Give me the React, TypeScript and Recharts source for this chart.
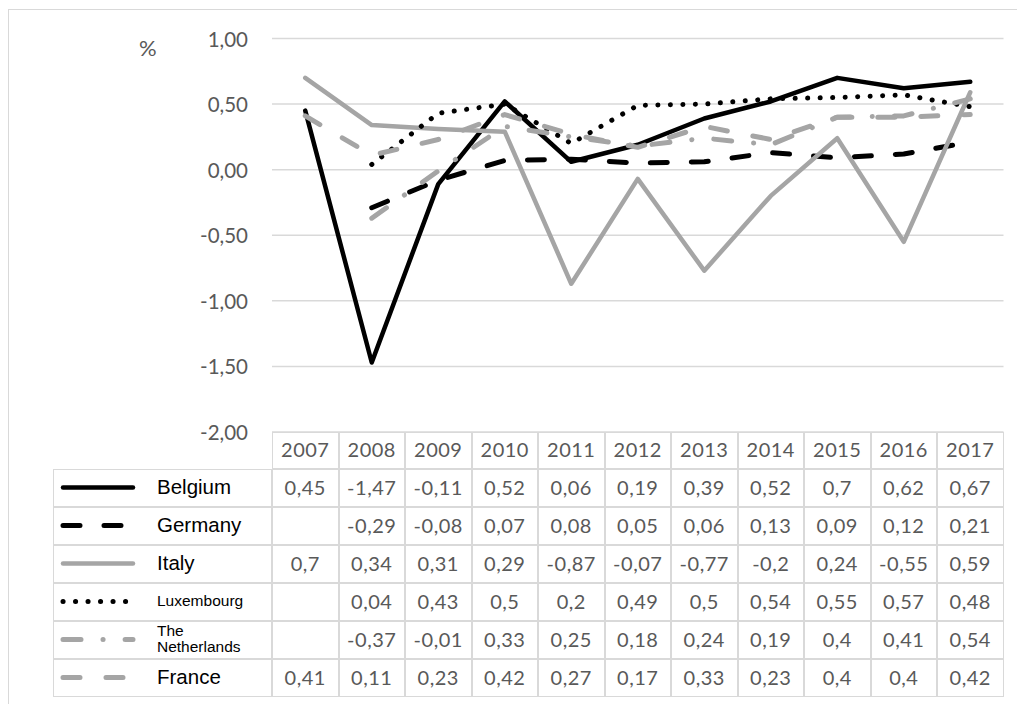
import { CartesianGrid, Line, LineChart, XAxis, YAxis } from "recharts";

const years = ["2007", "2008", "2009", "2010", "2011", "2012", "2013", "2014", "2015", "2016", "2017"];

const belgium = [0.45, -1.47, -0.11, 0.52, 0.06, 0.19, 0.39, 0.52, 0.7, 0.62, 0.67];
const germany = [null, -0.29, -0.08, 0.07, 0.08, 0.05, 0.06, 0.13, 0.09, 0.12, 0.21];
const italy = [0.7, 0.34, 0.31, 0.29, -0.87, -0.07, -0.77, -0.2, 0.24, -0.55, 0.59];
const luxembourg = [null, 0.04, 0.43, 0.5, 0.2, 0.49, 0.5, 0.54, 0.55, 0.57, 0.48];
const netherlands = [null, -0.37, -0.01, 0.33, 0.25, 0.18, 0.24, 0.19, 0.4, 0.41, 0.54];
const france = [0.41, 0.11, 0.23, 0.42, 0.27, 0.17, 0.33, 0.23, 0.4, 0.4, 0.42];

const yTicks = [1, 0.5, 0, -0.5, -1, -1.5, -2];

// table text is written as in the source (comma decimals, no trailing zeros)
const fmt = (v: number | null) => (v === null ? "" : String(v).replace(".", ","));
const fmtTick = (v: number) => v.toFixed(2).replace(".", ",");

interface SeriesDef {
  key: string;
  label: string;
  values: (number | null)[];
  color: string;
  dash?: string;
  width: number;
  small?: boolean;
}

const series: SeriesDef[] = [
  { key: "Belgium", label: "Belgium", values: belgium, color: "#000000", width: 4.5 },
  { key: "Germany", label: "Germany", values: germany, color: "#000000", dash: "17 24", width: 5 },
  { key: "Italy", label: "Italy", values: italy, color: "#a5a5a5", width: 4.5 },
  { key: "Luxembourg", label: "Luxembourg", values: luxembourg, color: "#000000", dash: "0.1 12.4", width: 5, small: true },
  { key: "Netherlands", label: "The Netherlands", values: netherlands, color: "#a5a5a5", dash: "18 22 0.1 22", width: 5, small: true },
  { key: "France", label: "France", values: france, color: "#a5a5a5", dash: "17 26", width: 5 },
];

const data = years.map((year, i) => {
  const row: Record<string, string | number | null> = { year };
  series.forEach((s) => {
    row[s.key] = s.values[i];
  });
  return row;
});

const PLOT_LEFT = 272;
const COL_W = 66.5;
const HEAD_TOP = 432;
const HEAD_H = 36.5;
const ROW_H = 38;
const LEG_LEFT = 53;
const GRID = "#d9d9d9";
const TEXT = "#595959";
const valueFont = "Lato, 'Open Sans', sans-serif";

function YTick({ y, payload }: any) {
  return (
    <text
      x={248}
      y={y}
      textAnchor="end"
      dominantBaseline="central"
      fill={TEXT}
      fontSize={20.5}
      fontFamily={valueFont}
    >
      {fmtTick(payload.value)}
    </text>
  );
}

const cellText = {
  textAlign: "center" as const,
  color: TEXT,
  fontSize: 20,
  letterSpacing: 0.5,
  fontFamily: valueFont,
  border: `1.5px solid ${GRID}`,
  boxSizing: "border-box" as const,
  position: "absolute" as const,
};

function DataTable() {
  const cells: JSX.Element[] = [];
  years.forEach((y, c) => {
    cells.push(
      <div
        key={"h" + y}
        style={{
          ...cellText,
          left: PLOT_LEFT + c * COL_W,
          top: HEAD_TOP,
          width: COL_W,
          height: HEAD_H,
          lineHeight: HEAD_H - 3 + "px",
        }}
      >
        {y}
      </div>
    );
  });
  series.forEach((s, r) => {
    const top = HEAD_TOP + HEAD_H + r * ROW_H;
    cells.push(
      <div
        key={"l" + s.key}
        style={{
          position: "absolute",
          left: LEG_LEFT,
          top,
          width: PLOT_LEFT - LEG_LEFT,
          height: ROW_H,
          border: `1.5px solid ${GRID}`,
          boxSizing: "border-box",
        }}
      >
        <svg width={90} height={ROW_H - 3} style={{ position: "absolute", left: 0, top: 0 }}>
          <line
            x1={9}
            x2={79}
            y1={(ROW_H - 3) / 2}
            y2={(ROW_H - 3) / 2}
            stroke={s.color}
            strokeWidth={s.width}
            strokeDasharray={s.dash}
            strokeLinecap="round"
          />
        </svg>
        <div
          style={{
            position: "absolute",
            left: 103,
            top: 0,
            height: ROW_H - 3,
            display: "flex",
            alignItems: "center",
            fontFamily: "'Liberation Sans', Arial, sans-serif",
            fontSize: s.small ? 15.5 : 20.5,
            lineHeight: s.small ? "16px" : "20px",
            color: "#000",
            width: s.small ? 100 : 110,
          }}
        >
          {s.label}
        </div>
      </div>
    );
    years.forEach((y, c) => {
      cells.push(
        <div
          key={s.key + y}
          style={{
            ...cellText,
            left: PLOT_LEFT + c * COL_W,
            top,
            width: COL_W,
            height: ROW_H,
            lineHeight: ROW_H - 3 + "px",
          }}
        >
          {fmt(s.values[c])}
        </div>
      );
    });
  });
  return <>{cells}</>;
}

export default function App() {
  return (
    <div
      style={{
        position: "absolute",
        left: 0,
        top: 0,
        width: 1017,
        height: 704,
        background: "#fff",
        overflow: "hidden",
      }}
    >
      <div
        style={{
          position: "absolute",
          left: 8,
          top: 9,
          width: 1100,
          height: 800,
          borderLeft: `1.5px solid ${GRID}`,
          borderTop: `1.5px solid ${GRID}`,
        }}
      />
      <div
        style={{
          position: "absolute",
          left: 139,
          top: 34,
          color: TEXT,
          fontSize: 22,
          fontFamily: valueFont,
        }}
      >
        %
      </div>
      <div style={{ position: "absolute", left: 0, top: 0 }}>
        <LineChart
          width={1017}
          height={704}
          data={data}
          margin={{ top: 38.5, right: 13.5, bottom: 272, left: 212 }}
        >
          <CartesianGrid vertical={false} stroke={GRID} strokeWidth={1.5} />
          <XAxis
            dataKey="year"
            hide
            padding={{ left: COL_W / 2, right: COL_W / 2 }}
          />
          <YAxis
            width={60}
            domain={[-2, 1]}
            ticks={yTicks}
            axisLine={false}
            tickLine={false}
            tick={<YTick />}
            interval={0}
          />
          {series.map((s) => (
            <Line
              key={s.key}
              type="linear"
              dataKey={s.key}
              stroke={s.color}
              strokeWidth={s.width}
              strokeDasharray={s.dash}
              strokeLinecap="round"
              strokeLinejoin="round"
              dot={false}
              activeDot={false}
              isAnimationActive={false}
            />
          ))}
        </LineChart>
      </div>
      <DataTable />
    </div>
  );
}
